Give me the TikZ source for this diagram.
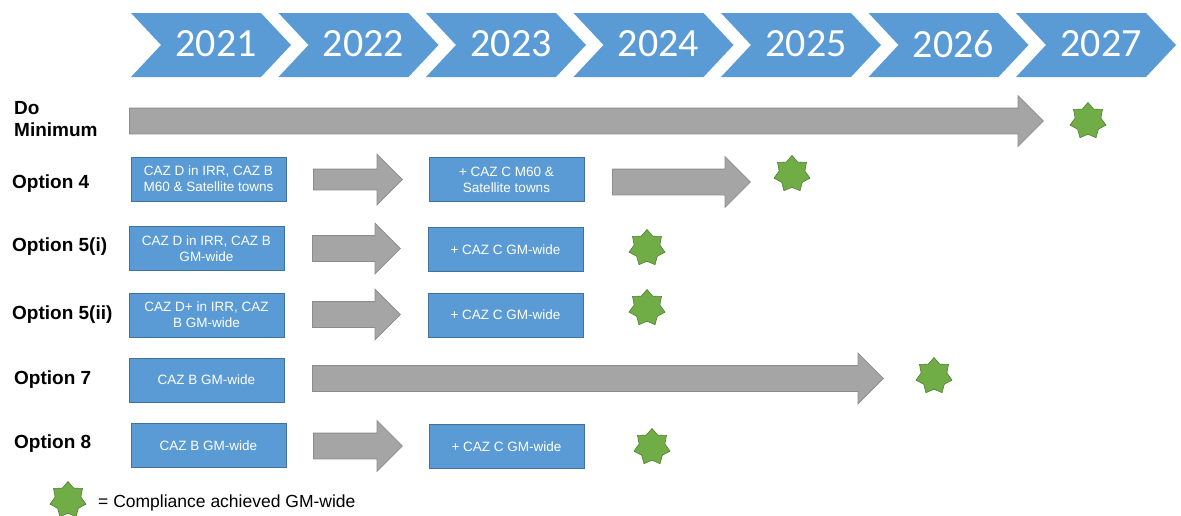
\documentclass[tikz,border=0pt]{standalone}
\usepackage{fontspec}
\setmainfont{Liberation Sans}
\newfontfamily\yearfont{Carlito}
\usetikzlibrary{shapes.geometric,shapes.arrows}
\definecolor{boxblue}{HTML}{5B9BD5}
\definecolor{boxedge}{HTML}{41719C}
\definecolor{arrgrey}{HTML}{A5A5A5}
\definecolor{arredge}{HTML}{8C8C8C}
\definecolor{stargreen}{HTML}{70AD47}
\definecolor{staredge}{HTML}{507E32}

\begin{document}
\begin{tikzpicture}[x=1pt,y=-1pt,
  yearlabel/.style={text=white,font=\yearfont\fontsize{40}{40}\selectfont},
  option/.style={anchor=west,align=left,inner sep=0pt,font=\bfseries\fontsize{19}{22}\selectfont},
  cazbox/.style={fill=boxblue,draw=boxedge,line width=0.8pt,text=white,minimum width=155pt,minimum height=44pt,align=center,inner sep=0pt,font=\fontsize{13.5}{16}\selectfont},
  fatarrow/.style={single arrow,anchor=tail,fill=arrgrey,draw=arredge,line width=0.8pt,inner xsep=0pt,inner ysep=12.5pt,single arrow head extend=12.5pt,single arrow head indent=0pt},
  done/.style={star,star points=7,star point ratio=1.4,fill=stargreen,draw=staredge,line width=0.6pt,minimum size=37pt,inner sep=0pt}]
\useasboundingbox (0,0) rectangle (1181,515);
% Year chevrons
\foreach \yr [count=\i from 0] in {2021,...,2027} {
  \pgfmathsetmacro\xo{131+147.5*\i}
  \fill[boxblue] (\xo,13) -- ++(130,0) -- ++(30,32) -- ++(-30,32) -- ++(-130,0) -- ++(30,-32) -- cycle;
  \node[yearlabel] (y\yr) at (\xo+85,44) {\yr};
}
% Option labels
\node[option] (dm) at (14,119) {Do\\Minimum};
\node[option] (o4) at (12,184) {Option 4};
\node[option] (o5i) at (12,247) {Option 5(i)};
\node[option] (o5ii) at (12,315) {Option 5(ii)};
\node[option] (o7) at (14,380) {Option 7};
\node[option] (o8) at (14,444) {Option 8};
% CAZ boxes
\node[cazbox] (b4a) at (208.5,179) {CAZ D in IRR, CAZ B\\M60 \& Satellite towns};
\node[cazbox] (b4b) at (506.5,179.5) {+ CAZ C M60 \&\\Satellite towns};
\node[cazbox] (b5ia) at (206.5,248.5) {CAZ D in IRR, CAZ B\\GM-wide};
\node[cazbox] (b5ib) at (505.5,249.5) {+ CAZ C GM-wide};
\node[cazbox] (b5iia) at (206.5,315) {CAZ D+ in IRR, CAZ\\B GM-wide};
\node[cazbox] (b5iib) at (505.5,315) {+ CAZ C GM-wide};
\node[cazbox] (b7a) at (206.5,380) {CAZ B GM-wide};
\node[cazbox] (b8a) at (208.5,445.5) {CAZ B GM-wide};
\node[cazbox] (b8b) at (506.5,446.5) {+ CAZ C GM-wide};
% Grey arrows (placed by their tails)
\node[fatarrow,minimum height=914pt] (adm) at (129,121) {};
\node[fatarrow,minimum height=89pt,inner ysep=10pt,single arrow head extend=15pt] (a4a) at (313,179.5) {};
\node[fatarrow,minimum height=138pt] (a4b) at (612,182) {};
\node[fatarrow,minimum height=88pt] (a5i) at (312,248.5) {};
\node[fatarrow,minimum height=88pt] (a5ii) at (312,314.5) {};
\node[fatarrow,minimum height=571pt] (a7) at (312,378.5) {};
\node[fatarrow,minimum height=89pt] (a8) at (313,446) {};
% Compliance stars
\node[done] (sdm) at (1088,121) {};
\node[done] (s4) at (792,174) {};
\node[done] (s5i) at (647,248) {};
\node[done] (s5ii) at (647,308) {};
\node[done] (s7) at (934,376) {};
\node[done] (s8) at (652,447) {};
% Legend
\node[done] (skey) at (68,500) {};
\node[anchor=west,inner sep=0pt,font=\fontsize{17.5}{20}\selectfont] (key) at (98,503) {= Compliance achieved GM-wide};
\end{tikzpicture}
\end{document}
